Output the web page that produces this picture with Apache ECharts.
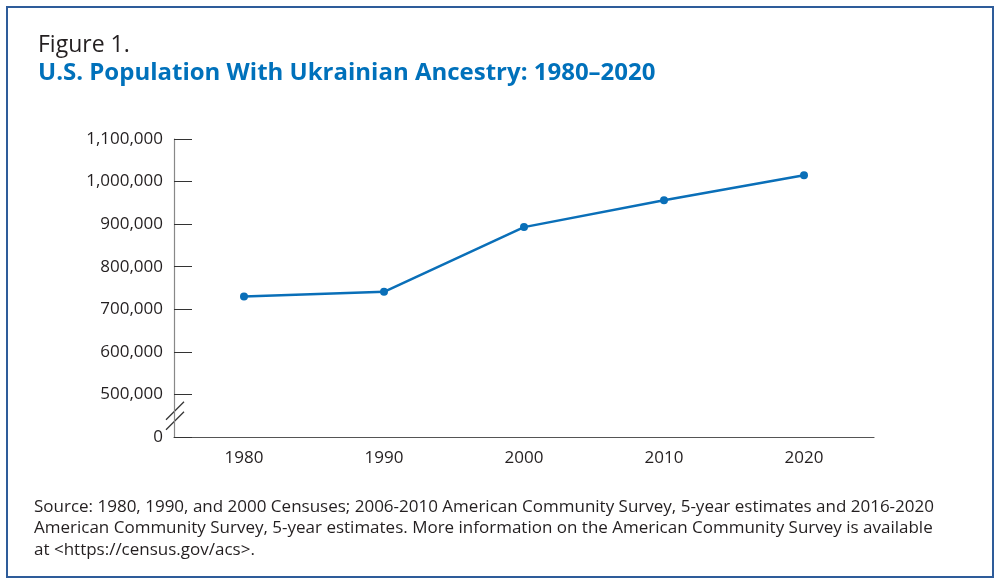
<!DOCTYPE html>
<html><head><meta charset="utf-8">
<script src="https://cdn.jsdelivr.net/npm/echarts@6/dist/echarts.min.js"></script>
<style>html,body{margin:0;padding:0;background:#fff}#c{width:1000px;height:584px}</style>
</head><body><div id="c"></div>
<script>
const years = ['1980', '1990', '2000', '2010', '2020'];
const population = [730000, 741000, 893000, 956000, 1015000];
const yTickValues = [400000, 500000, 600000, 700000, 800000, 900000, 1000000, 1100000];
const yTickLabels = ['0', '500,000', '600,000', '700,000', '800,000', '900,000', '1,000,000', '1,100,000'];
const sourceLines = [
  'Source: 1980, 1990, and 2000 Censuses; 2006-2010 American Community Survey, 5-year estimates and 2016-2020',
  'American Community Survey, 5-year estimates. More information on the American Community Survey is available',
  'at <https://census.gov/acs>.'
];

const chart = echarts.init(document.getElementById('c'), null, {renderer: 'canvas'});
const txt = '#231f20';
const FONT = 'Open Sans';
const frame = {type: 'rect', shape: {x: 7, y: 7, width: 986, height: 570}, style: {fill: null, stroke: '#2e5c9a', lineWidth: 2}, silent: true};
chart.setOption({
  animation: false,
  backgroundColor: '#fff',
  textStyle: {fontFamily: FONT},
  title: [
    {text: 'Figure 1.', left: 33, top: 29, textStyle: {fontFamily: FONT, fontSize: 23, fontWeight: 'normal', color: txt}},
    {text: 'U.S. Population With Ukrainian Ancestry: 1980\u20132020', left: 33, top: 56, textStyle: {fontFamily: FONT, fontSize: 24, fontWeight: 'bold', color: '#0071bb'}}
  ],
  grid: {left: 174, right: 126, top: 139, bottom: 147, containLabel: false},
  xAxis: {
    type: 'category', data: years, boundaryGap: true,
    axisLine: {lineStyle: {color: '#555', width: 1.2}},
    axisTick: {inside: true, alignWithLabel: true, length: 8, lineStyle: {color: '#777'}},
    axisLabel: {color: txt, fontSize: 17, margin: 13, fontFamily: FONT}
  },
  yAxis: {
    type: 'value', min: 400000, max: 1100000, interval: 100000,
    splitLine: {show: false},
    axisLine: {show: true, lineStyle: {color: '#888', width: 1.2}},
    axisTick: {show: true, inside: true, length: 18, lineStyle: {color: '#333'}},
    axisLabel: {color: txt, fontSize: 17, margin: 11, fontFamily: FONT,
      formatter: v => { const i = yTickValues.indexOf(v); return i >= 0 ? yTickLabels[i] : ''; }}
  },
  series: [{
    type: 'line', data: population,
    lineStyle: {color: '#0a6fb8', width: 2.5},
    itemStyle: {color: '#0a6fb8'},
    symbol: 'circle', symbolSize: 8, showSymbol: true
  }]
});
// axis break marks
const p = chart.convertToPixel({gridIndex: 0}, [0, 450000]);
const ax = 175;
const py = p[1];
chart.setOption({graphic: [
  frame,
  {type: 'text', left: 34, top: 496, style: {
    text: sourceLines.join('\n'), fontFamily: FONT, fontSize: 17, fill: txt, lineHeight: 21.5}},
  {type: 'line', shape: {x1: ax - 9, y1: py - 5 + 9, x2: ax + 9, y2: py - 5 - 9}, style: {stroke: '#333', lineWidth: 1.2}},
  {type: 'line', shape: {x1: ax - 9, y1: py + 5 + 9, x2: ax + 9, y2: py + 5 - 9}, style: {stroke: '#333', lineWidth: 1.2}}
]});
</script></body></html>
